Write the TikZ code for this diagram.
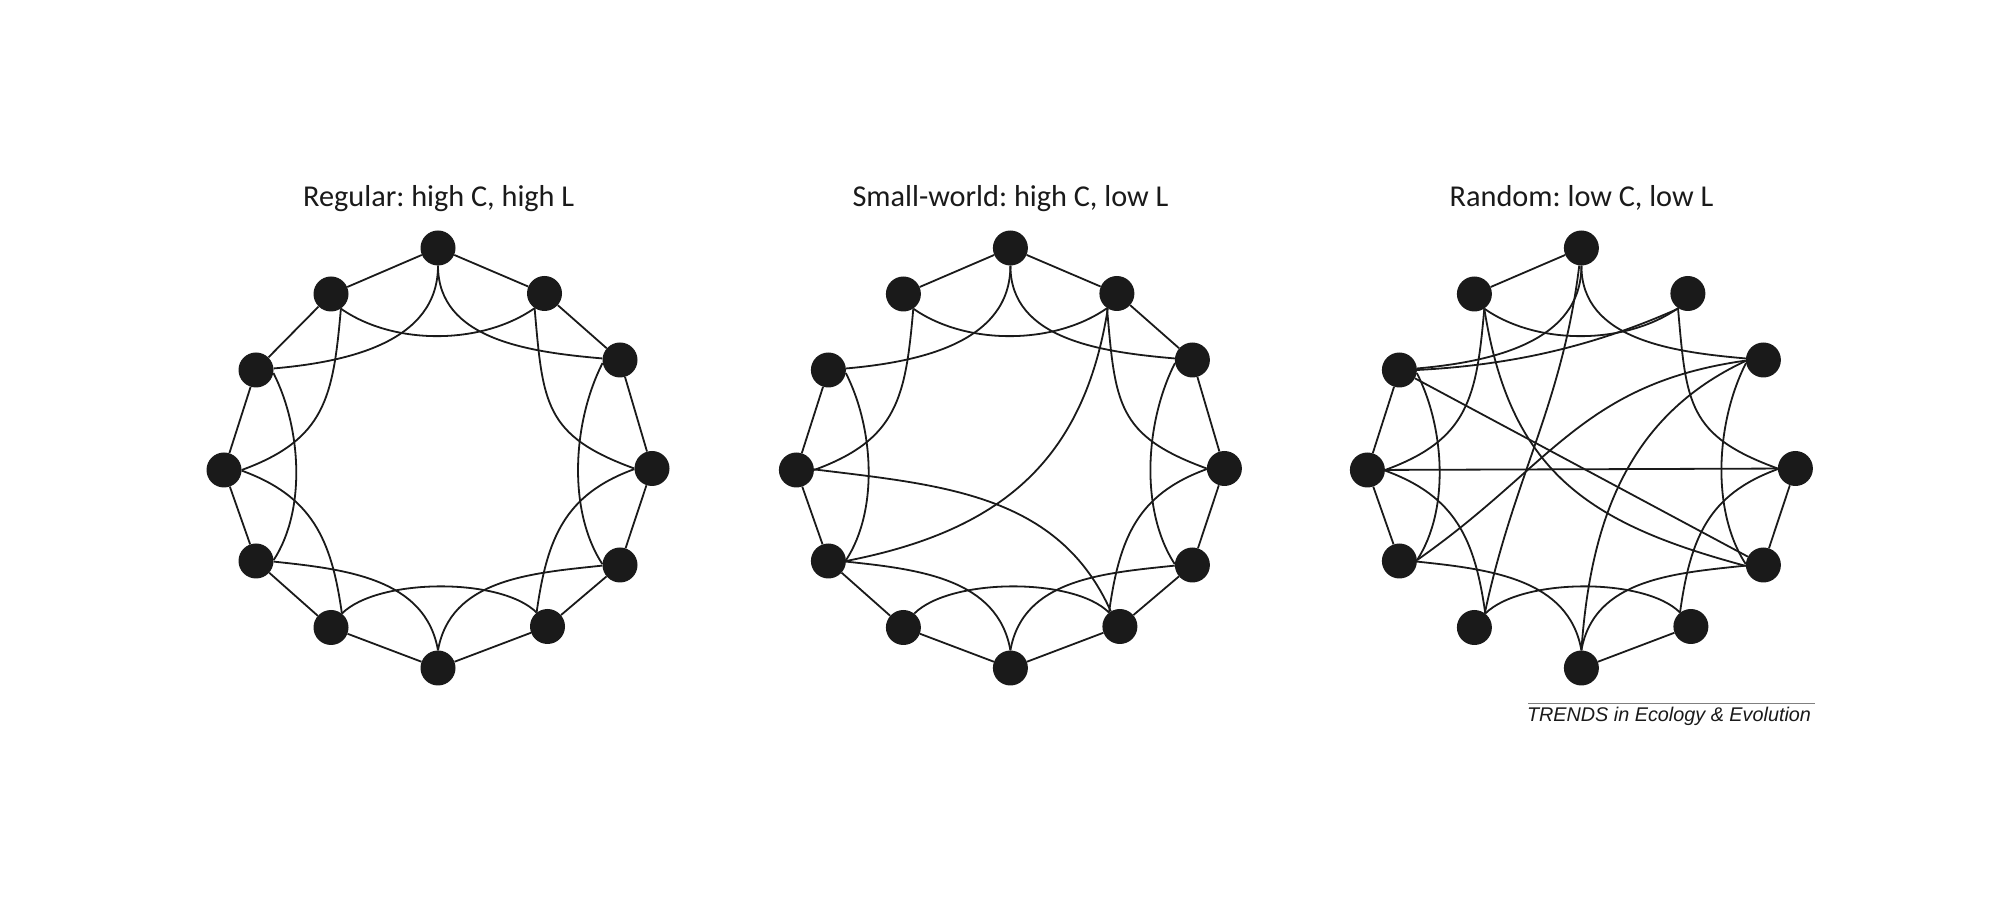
\documentclass[tikz,border=0pt]{standalone}
\usepackage{fontspec}
\setmainfont{Carlito}
\newfontfamily\trendsfont{Liberation Sans}
\definecolor{ink}{HTML}{1A1A1A}
\definecolor{rulegray}{HTML}{808080}
\pgfdeclarelayer{bg}
\pgfsetlayers{bg,main}
\frenchspacing
\newcommand\ringnodes[2]{%
  \begin{scope}[xshift=#2pt]
    \node[dot] (#10) at (438,668) {};
    \node[dot] (#11) at (544.5,622.5) {};
    \node[dot] (#12) at (620,556) {};
    \node[dot] (#13) at (652,447.5) {};
    \node[dot] (#14) at (620,351) {};
    \node[dot] (#15) at (547.5,289.5) {};
    \node[dot] (#16) at (438,248) {};
    \node[dot] (#17) at (331,288.5) {};
    \node[dot] (#18) at (256,355) {};
    \node[dot] (#19) at (224,446) {};
    \node[dot] (#110) at (256,546) {};
    \node[dot] (#111) at (331,622) {};
  \end{scope}}
\newcommand\commoncurves[1]{%
  \draw[link] (#10) to[out=270,in=5] (#110);
  \draw[link] (#10) to[out=270,in=175] (#12);
  \draw[link] (#111.-56) to[out=-35,in=215,looseness=0.85] (#11.236);
  \draw[link] (#111.-56) to[out=265,in=20,looseness=1.2] (#19.0);
  \draw[link] (#11.236) to[out=275,in=160,looseness=1.3] (#13.180);
  \draw[link] (#110.-10) to[out=-63,in=57,looseness=0.83] (#18.3);
  \draw[link] (#12.190) to[out=243,in=123,looseness=0.83] (#14.177);
  \draw[link] (#13.182) to[out=200,in=82,looseness=1.1] (#15.128);
  \draw[link] (#18.-2) to[out=-6,in=100] (#16.90);
  \draw[link] (#14.182) to[out=186,in=80] (#16.90);
  \draw[link] (#17.52) to[out=45,in=135,looseness=0.66] (#15.128);
}
\begin{document}
\begin{tikzpicture}[x=1pt,y=1pt,
  dot/.style={circle,fill=ink,draw=none,inner sep=0pt,minimum size=35pt},
  link/.style={draw=ink,line width=1.8pt},
  title/.style={anchor=base,text=ink,font=\fontsize{30.3}{36}\selectfont}]
\useasboundingbox (0,0) rectangle (2000,916);

% titles
\node[title] (t1) at (438.7,709) {Regular: high C, high L};
\node[title] (t2) at (1010.5,709) {Small-world: high C, low L};
\node[title] (t3) at (1581.5,709) {Random: low C, low L};

% nodes
\ringnodes{a}{0}
\ringnodes{b}{572.4}
\ringnodes{c}{1143.4}

\begin{pgfonlayer}{bg}
\fill[white] (0,0) rectangle (2000,916);
% ---------- Regular ----------
\foreach \i/\j in {0/1,1/2,2/3,3/4,4/5,5/6,6/7,7/8,8/9,9/10,10/11,11/0}
  \draw[link] (a\i) -- (a\j);
\commoncurves{a}
\draw[link] (a9.-2) to[out=-20,in=98,looseness=1.1] (a7.52);

% ---------- Small-world ----------
\foreach \i/\j in {0/1,1/2,2/3,3/4,4/5,5/6,6/7,7/8,8/9,9/10,11/0}
  \draw[link] (b\i) -- (b\j);
\commoncurves{b}
\draw[link] (b1.239) to[out=261,in=11,looseness=1.1] (b8.0);
\draw[link] (b9.2) to[out=-7,in=114] (b5.121);

% ---------- Random ----------
\foreach \i/\j in {0/11,3/4,5/6,8/9,9/10,9/3,10/4}
  \draw[link] (c\i) -- (c\j);
\commoncurves{c}
\draw[link] (c9.-2) to[out=-20,in=98,looseness=1.1] (c7.52);
\draw[link] (c0) to[out=263,in=78] (c7.54);
\draw[link] (c1.238) to[out=204,in=3,looseness=0.9] (c10.0);
\draw[link] (c2.182) to[out=188,in=35,looseness=1.1] (c8.3);
\draw[link] (c2.183) to[out=205,in=86] (c6.90);
\draw[link] (c11.-56) to[out=-81,in=165,looseness=1.15] (c4.183);
\end{pgfonlayer}

% credit line
\draw[rulegray,line width=1.2pt] (1528,212.7) -- (1815,212.7);
\node[anchor=base,inner sep=0pt,text=ink,font=\trendsfont\itshape\fontsize{19.8}{23}\selectfont] (credit) at (1669,194.3) {TRENDS in Ecology \& Evolution};
\end{tikzpicture}
\end{document}
